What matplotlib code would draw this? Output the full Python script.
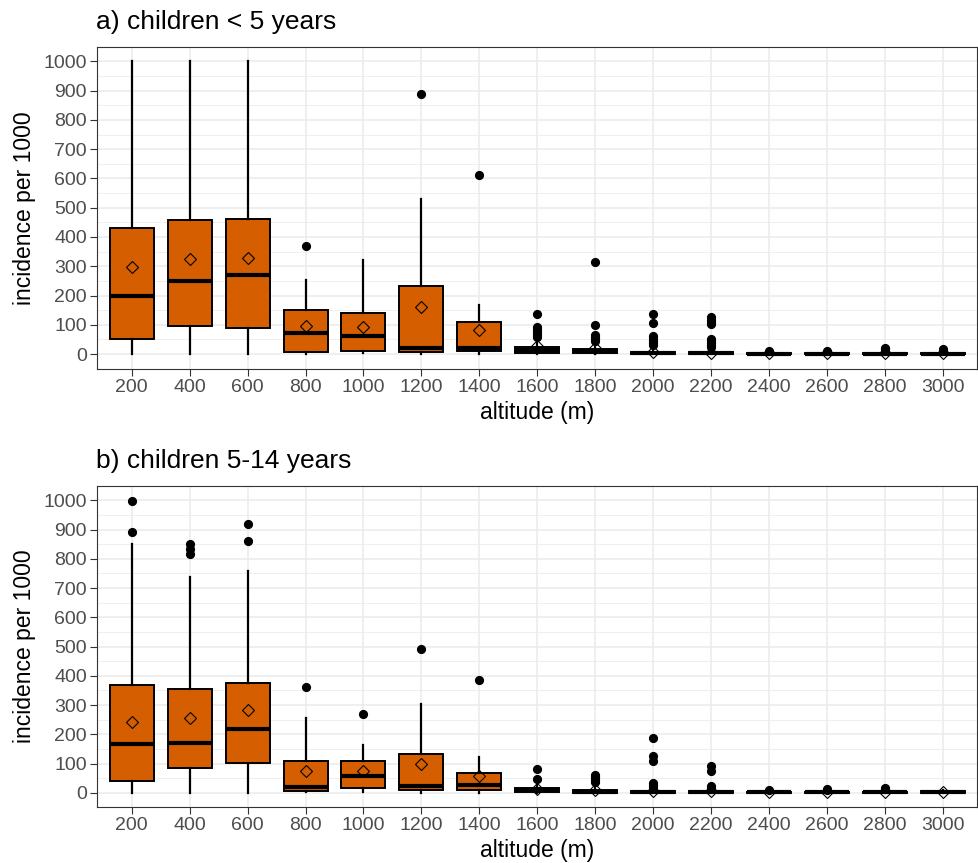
import matplotlib
matplotlib.use('Agg')
import matplotlib.pyplot as plt
from matplotlib.ticker import MultipleLocator, FixedLocator

plt.rcParams['font.family'] = ['Liberation Sans', 'DejaVu Sans']

altitudes = [200, 400, 600, 800, 1000, 1200, 1400, 1600, 1800, 2000, 2200, 2400, 2600, 2800, 3000]
tick_labels = [str(a) for a in altitudes]
y_ticks = [0, 100, 200, 300, 400, 500, 600, 700, 800, 900, 1000]

# panel a) children < 5 years
a_whislo = [0, 0, 0, 0, 2, 0, 0, 0, 0, 0, 0, 0, 0, 0, 0]
a_q1 = [51, 96, 89, 8, 12, 8, 10, 2, 2, 0, 0, 0, 0, 0, 0]
a_med = [199, 248, 270, 72, 62, 22, 20, 14, 9, 3, 2, 1, 1, 1, 1]
a_q3 = [431, 458, 462, 150, 141, 231, 109, 25, 18, 8, 6, 4, 4, 4, 5]
a_whishi = [1000, 1000, 1000, 253, 322, 531, 167, 45, 40, 20, 15, 8, 8, 9, 10]
a_mean = [297, 324, 328, 96, 92, 160, 82, 28, 20, 6, 5, 2, 2, 2, 3]
a_out = [[], [], [], [368], [], [890], [610],
         [137, 93, 86, 79, 72, 65, 58],
         [315, 98, 66, 58, 50, 44],
         [137, 105, 60, 52, 45, 38, 30],
         [127, 118, 110, 101, 50, 44, 38, 30, 24],
         [11], [11], [21, 17], [17, 14]]

# panel b) children 5-14 years
b_whislo = [0, 0, 0, 3, 3, 0, 0, 0, 0, 0, 0, 0, 0, 0, 0]
b_q1 = [39, 86, 103, 7, 16, 10, 8, 1, 0, 0, 0, 0, 0, 0, 0]
b_med = [167, 169, 217, 19, 58, 22, 27, 8, 4, 2, 2, 1, 1, 1, 1]
b_q3 = [368, 354, 377, 107, 109, 133, 67, 18, 10, 6, 5, 4, 4, 4, 5]
b_whishi = [851, 737, 760, 255, 164, 303, 122, 30, 20, 12, 10, 8, 8, 8, 10]
b_mean = [241, 255, 283, 73, 76, 99, 56, 14, 8, 7, 5, 2, 2, 3, 3]
b_out = [[999, 891], [851, 834, 817], [919, 861], [361], [270], [493], [384],
         [81, 47],
         [61, 55, 49, 43, 37],
         [186, 126, 107, 33, 26, 20],
         [92, 73, 22, 16],
         [10], [12, 9], [18, 14], []]

titles = ['a) children < 5 years', 'b) children 5-14 years']
xlabel = 'altitude (m)'
ylabel = 'incidence per 1000'

FILL = '#D55E00'
GRID = '#EBEBEB'

W, H = 979, 863
fig = plt.figure(figsize=(W / 100, H / 100), dpi=100)

panels = [
    (a_whislo, a_q1, a_med, a_q3, a_whishi, a_mean, a_out),
    (b_whislo, b_q1, b_med, b_q3, b_whishi, b_mean, b_out),
]
ax_px = [(97, 46.7, 977.5, 368.7), (97, 485.7, 977.5, 807.4)]
title_base = [29.3, 468.3]

for i, (wl, q1, md, q3, wh, mn, out) in enumerate(panels):
    l, t, r, b = ax_px[i]
    ax = fig.add_axes([l / W, 1 - b / H, (r - l) / W, (b - t) / H])
    stats = []
    for k in range(len(altitudes)):
        stats.append(dict(whislo=wl[k], q1=q1[k], med=md[k], q3=q3[k],
                          whishi=wh[k], mean=mn[k], fliers=out[k]))
    pos = list(range(1, len(altitudes) + 1))
    ax.bxp(stats, positions=pos, widths=0.76, patch_artist=True,
           showcaps=False, showmeans=True, showfliers=True,
           boxprops=dict(facecolor=FILL, edgecolor='black', linewidth=1.4),
           whiskerprops=dict(color='black', linewidth=1.6),
           medianprops=dict(color='black', linewidth=3.0),
           flierprops=dict(marker='o', markerfacecolor='black', markeredgecolor='black',
                           markersize=5.6, linestyle='none'),
           meanprops=dict(marker='D', markerfacecolor='none', markeredgecolor='black',
                          markersize=6.3, markeredgewidth=0.8))
    ax.set_xlim(0.4, len(altitudes) + 0.6)
    ax.set_ylim(-50, 1050)
    ax.xaxis.set_major_locator(FixedLocator(pos))
    ax.set_xticklabels(tick_labels)
    ax.yaxis.set_major_locator(FixedLocator(y_ticks))
    ax.set_yticklabels([str(v) for v in y_ticks])
    ax.yaxis.set_minor_locator(MultipleLocator(50))
    ax.set_axisbelow(True)
    ax.grid(which='major', axis='both', color=GRID, linewidth=1.1)
    ax.grid(which='minor', axis='y', color=GRID, linewidth=0.55)
    ax.tick_params(which='minor', length=0)
    ax.tick_params(which='major', length=5, width=0.8, color='#333333',
                   labelcolor='#4D4D4D', labelsize=14, pad=2.2)
    for s in ax.spines.values():
        s.set_color('#333333')
        s.set_linewidth(0.8)
    fig.text(96 / W, 1 - title_base[i] / H, titles[i], fontsize=19, color='black',
             ha='left', va='baseline')
    fig.text((l + r) / 2 / W, 1 - (b + 50) / H, xlabel, fontsize=16.5, color='black',
             ha='center', va='baseline')
    fig.text(25 / W, 1 - (t + b) / 2 / H, ylabel, fontsize=16.5, color='black',
             ha='center', va='center', rotation=90)

fig.savefig('out.png', dpi=100)
